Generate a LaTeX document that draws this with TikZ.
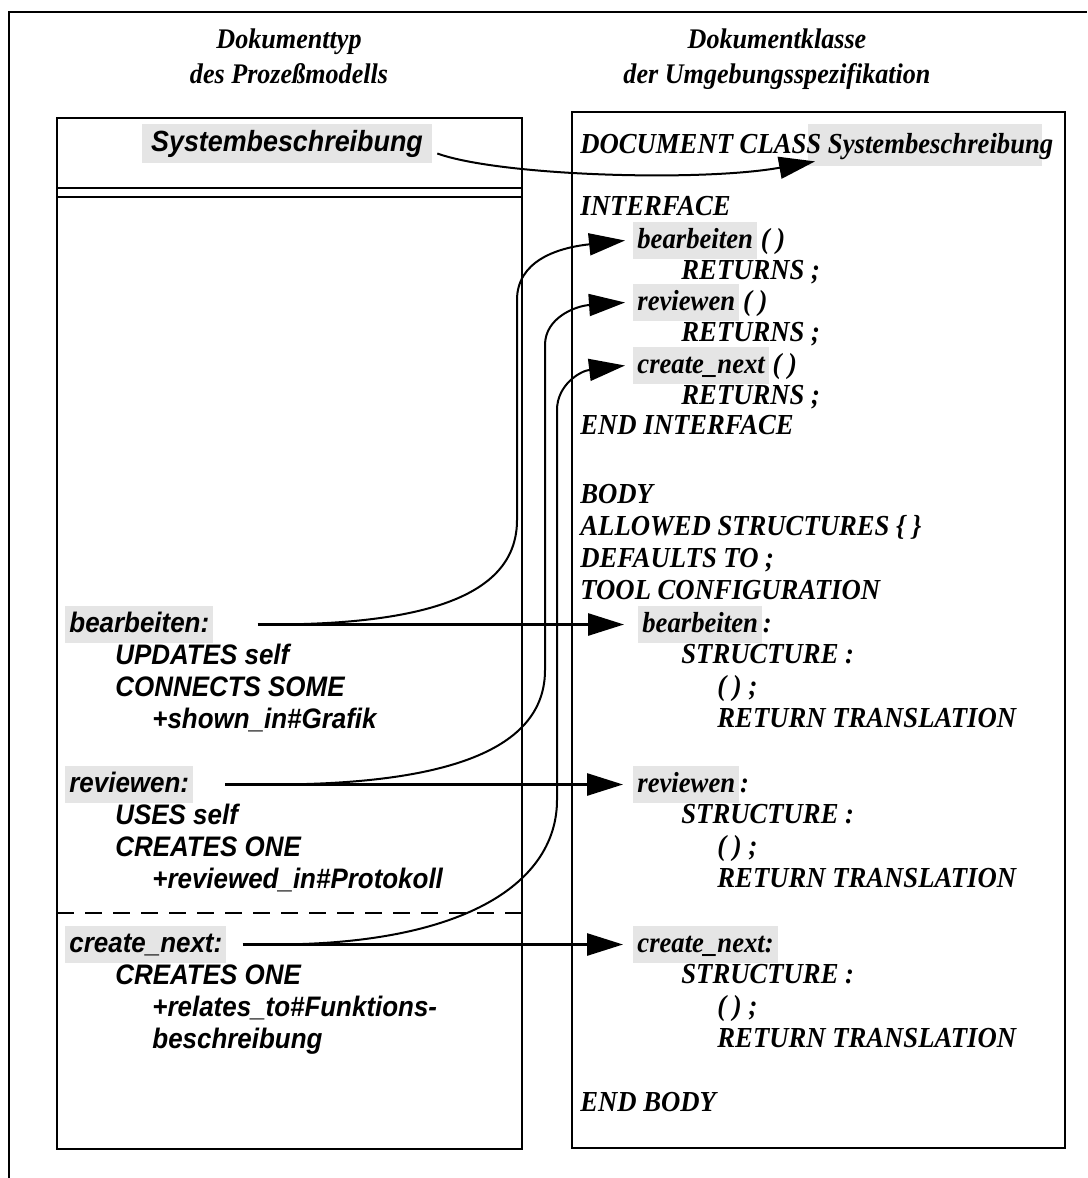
\documentclass[tikz,border=0pt]{standalone}
\usepackage{fontspec}
\setmainfont{Liberation Serif}[FakeStretch=0.92]
\newfontfamily\sansbi{Liberation Sans}[FakeStretch=0.92]
\usetikzlibrary{arrows.meta,backgrounds}

\begin{document}
\begin{tikzpicture}[x=0.5pt,y=-0.5pt,
  box/.style={line width=0.9pt},
  head/.style={anchor=base, inner sep=0pt, font=\fontsize{14.2}{16}\selectfont\bfseries\itshape},
  rtxt/.style={anchor=base west, inner sep=0pt, font=\fontsize{14.5}{16}\selectfont\bfseries\itshape},
  ltxt/.style={anchor=base west, inner sep=0pt, font=\sansbi\fontsize{14.1}{16}\selectfont\bfseries\itshape},
  hl/.style={fill=black!10, inner xsep=2pt, inner ysep=2.5pt, text height=10.5pt, text depth=3pt},
  tip/.style={-{Triangle[length=18pt,width=11pt]}},
  harr/.style={tip, line width=1.4pt},
  carr/.style={tip, line width=1pt},
]
\useasboundingbox (0,0) rectangle (1087,1178);

% outer frame (open on the right and at the bottom)
\draw[box] (9,1178) -- (9,12) -- (1087,12);

% column headings
\node[head] (h1) at (289,48) {Dokumenttyp};
\node[head] (h2) at (289,83) {des Prozeßmodells};
\node[head] (h3) at (777,48) {Dokumentklasse};
\node[head] (h4) at (777,83) {der Umgebungsspezifikation};

% left box: document type
\draw[box] (57,118) rectangle (522,1149);
\draw[box] (57,188) -- (522,188);
\draw[box] (57,197) -- (522,197);
\draw[box, dash pattern=on 8.5pt off 5.5pt] (57,913) -- (522,913);

\node[ltxt, hl, anchor=base, inner xsep=4.5pt, text height=11pt, text depth=3.5pt,
      font=\sansbi\fontsize{14.6}{16}\selectfont\bfseries\itshape] (lsys) at (287,151) {Systembeschreibung};

\node[ltxt, hl] (lb) at (65,632) {bearbeiten:};
\node[ltxt] (lb1) at (115,664) {UPDATES self};
\node[ltxt] (lb2) at (115,696) {CONNECTS SOME};
\node[ltxt] (lb3) at (152,728) {+shown\_in\#Grafik};

\node[ltxt, hl] (lr) at (65,792) {reviewen:};
\node[ltxt] (lr1) at (115,824) {USES self};
\node[ltxt] (lr2) at (115,856) {CREATES ONE};
\node[ltxt] (lr3) at (152,888) {+reviewed\_in\#Protokoll};

\node[ltxt, hl] (lc) at (65,952) {create\_next:};
\node[ltxt] (lc1) at (115,984) {CREATES ONE};
\node[ltxt] (lc2) at (152,1016) {+relates\_to\#Funktions-};
\node[ltxt] (lc3) at (152,1048) {beschreibung};

% right box: document class
\draw[box] (572,112) rectangle (1065,1148);

\begin{scope}[on background layer]
  \node[fill=black!10, inner sep=0pt, minimum width=117pt, minimum height=21pt,
        anchor=north west] (rsys) at (808,124) {};
\end{scope}
\node[rtxt] (dc) at (580,153) {DOCUMENT CLASS Systembeschreibung};

\node[rtxt] (iface) at (580,215) {INTERFACE};
\node[rtxt, hl] (ib) at (633,248) {bearbeiten};
\node[rtxt] (ibp) at (ib.base east) {\kern1.5pt( )};
\node[rtxt] (ir1) at (681,279) {RETURNS ;};
\node[rtxt, hl] (ir) at (633,310) {reviewen};
\node[rtxt] (irp) at (ir.base east) {\kern1.5pt( )};
\node[rtxt] (ir2) at (681,341) {RETURNS ;};
\node[rtxt, hl] (ic) at (633,373) {create\_next};
\node[rtxt] (icp) at (ic.base east) {\kern1.5pt( )};
\node[rtxt] (ir3) at (681,404) {RETURNS ;};
\node[rtxt] (eint) at (580,434) {END INTERFACE};

\node[rtxt] (body) at (580,503) {BODY};
\node[rtxt] (allow) at (580,535) {ALLOWED STRUCTURES \{ \}};
\node[rtxt] (dflt) at (580,567) {DEFAULTS TO ;};
\node[rtxt] (tool) at (580,599) {TOOL CONFIGURATION};

\node[rtxt, hl] (tb) at (638,632) {bearbeiten};
\node[rtxt] (tbc) at (tb.base east) {:};
\node[rtxt] (tb1) at (681,663) {STRUCTURE :};
\node[rtxt] (tb2) at (717,695) {( ) ;};
\node[rtxt] (tb3) at (717,727) {RETURN TRANSLATION};

\node[rtxt, hl] (tr) at (633,792) {reviewen};
\node[rtxt] (trc) at (tr.base east) {:};
\node[rtxt] (tr1) at (681,823) {STRUCTURE :};
\node[rtxt] (tr2) at (717,855) {( ) ;};
\node[rtxt] (tr3) at (717,887) {RETURN TRANSLATION};

\node[rtxt, hl] (tc) at (633,952) {create\_next:\hspace{5pt}};
\node[rtxt] (tc1) at (681,983) {STRUCTURE :};
\node[rtxt] (tc2) at (717,1015) {( ) ;};
\node[rtxt] (tc3) at (717,1047) {RETURN TRANSLATION};

\node[rtxt] (ebody) at (580,1111) {END BODY};

% connectors
\draw[carr] ([shift={(5,10)}]lsys.east) .. controls (500,176) and (700,182) .. ([shift={(7,16)}]rsys.west);

\draw[harr] ([xshift=22pt]lb.east) -- ([xshift=-7pt]tb.west);
\draw[harr] ([xshift=16pt]lr.east) -- ([xshift=-5pt]tr.west);
\draw[harr] ([xshift=8pt]lc.east) -- ([xshift=-5pt]tc.west);

\draw[carr] ([xshift=26pt]lb.east) .. controls (440,625) and (517,590) .. (517,520)
  -- (517,300) .. controls (517,262) and (555,248) .. ([xshift=-4pt]ib.west);
\draw[carr] ([xshift=37pt]lr.east) .. controls (470,785) and (545,740) .. (545,670)
  -- (545,345) .. controls (545,318) and (575,306) .. ([xshift=-4pt]ir.west);
\draw[carr] ([xshift=22pt]lc.east) .. controls (470,945) and (557,880) .. (557,800)
  -- (557,410) .. controls (557,385) and (580,371) .. ([xshift=-4pt]ic.west);
\end{tikzpicture}
\end{document}
